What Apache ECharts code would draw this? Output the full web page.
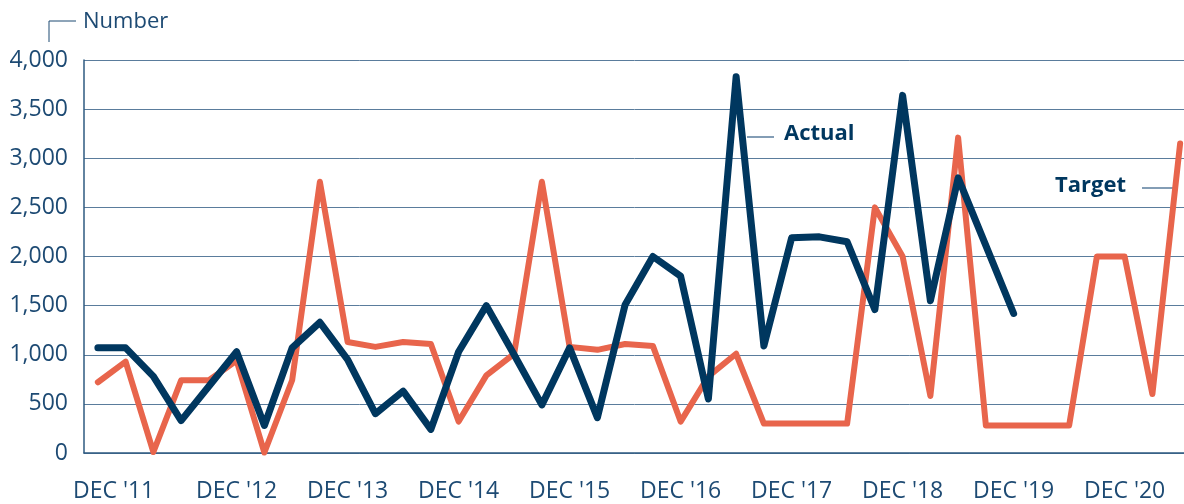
<!DOCTYPE html>
<html>
<head>
<meta charset="utf-8">
<script src="https://cdn.jsdelivr.net/npm/echarts@6/dist/echarts.min.js"></script>
<style>
  html, body { margin: 0; padding: 0; background: #fff; }
  #chart { width: 1184px; height: 504px; }
</style>
</head>
<body>
<div id="chart"></div>
<script>
// quarters from Sep '11 to Jun '21
const months = ['SEP', 'DEC', 'MAR', 'JUN'];
const quarters = [];
for (let i = 0; i < 40; i++) {
  const m = months[i % 4];
  const yr = 11 + Math.floor((i + 2) / 4);
  quarters.push(m + " '" + String(yr).padStart(2, '0'));
}

const target = [
  720, 930, 10, 740, 740, 940, 5, 740, 2760, 1130,
  1080, 1130, 1110, 320, 790, 1010, 2760, 1080, 1050, 1110,
  1090, 320, 780, 1010, 300, 300, 300, 300, 2500, 2000,
  580, 3210, 280, 280, 280, 280, 2000, 2000, 600, 3150
];

const actual = [
  1070, 1070, 780, 330, 680, 1030, 280, 1070, 1330, 950,
  400, 630, 240, 1030, 1500, 1000, 490, 1070, 360, 1510,
  2000, 1800, 550, 3830, 1090, 2190, 2200, 2150, 1460, 3640,
  1550, 2800, 2110, 1420, null, null, null, null, null, null
];

const yTicks = [0, 500, 1000, 1500, 2000, 2500, 3000, 3500, 4000];

const navy = '#00375f';
const orange = '#e8654c';
const textColor = '#1d4a73';
const font = '"Open Sans", "Noto Sans", sans-serif';

const chart = echarts.init(document.getElementById('chart'));
chart.setOption({
  animation: false,
  grid: { left: 84, width: 1110, top: 60, bottom: 51, containLabel: false, outerBoundsMode: 'none' },
  xAxis: {
    type: 'category',
    data: quarters,
    boundaryGap: true,
    axisLine: { lineStyle: { color: '#2e5a80', width: 1.5 } },
    axisTick: {
      alignWithLabel: true,
      length: 19,
      interval: (i, v) => v.startsWith('DEC'),
      lineStyle: { color: '#2e5a80', width: 1 }
    },
    axisLabel: {
      interval: (i, v) => v.startsWith('DEC'),
      margin: 27,
      color: textColor,
      fontSize: 23,
      fontFamily: font,
      // first label sits a little left of its tick in the original
      formatter: (v, i) => (i === 1 ? '{first|' + v + '}' : v),
      rich: {
        first: { padding: [0, 24, 0, 0], color: textColor, fontSize: 23, fontFamily: font }
      }
    },
    splitLine: { show: false }
  },
  yAxis: {
    type: 'value',
    min: yTicks[0],
    max: yTicks[yTicks.length - 1],
    interval: 500,
    axisLine: { show: true, lineStyle: { color: '#2e5a80', width: 1.5 } },
    axisTick: { show: false },
    axisLabel: {
      margin: 16,
      color: textColor,
      fontSize: 23,
      fontFamily: font,
      formatter: v => v.toLocaleString('en-US')
    },
    splitLine: { lineStyle: { color: '#5a7c9c', width: 1 } }
  },
  series: [
    {
      name: 'Target',
      type: 'line',
      data: target,
      symbol: 'none',
      lineStyle: { color: orange, width: 6, cap: 'round', join: 'round' }
    },
    {
      name: 'Actual',
      type: 'line',
      data: actual,
      symbol: 'none',
      lineStyle: { color: navy, width: 7, cap: 'round', join: 'round' }
    }
  ],
  graphic: [
    {
      type: 'polyline',
      shape: { points: [[49, 42], [49, 21], [76, 21]] },
      style: { stroke: textColor, lineWidth: 1, fill: null }
    },
    {
      type: 'text',
      left: 83, top: 11,
      style: { text: 'Number', fill: textColor, fontSize: 22, fontFamily: font }
    },
    {
      type: 'line',
      shape: { x1: 747, y1: 137, x2: 774, y2: 137 },
      style: { stroke: '#5a7c9c', lineWidth: 1.5 }
    },
    {
      type: 'text',
      left: 784, top: 123,
      style: { text: 'Actual', fill: navy, fontSize: 22, fontWeight: 'bold', fontFamily: font }
    },
    {
      type: 'text',
      left: 1055, top: 175,
      style: { text: 'Target', fill: navy, fontSize: 22, fontWeight: 'bold', fontFamily: font }
    },
    {
      type: 'line',
      shape: { x1: 1142, y1: 188, x2: 1173, y2: 188 },
      style: { stroke: '#5a7c9c', lineWidth: 1.5 }
    }
  ]
});

window.addEventListener('resize', () => chart.resize());
</script>
</body>
</html>
